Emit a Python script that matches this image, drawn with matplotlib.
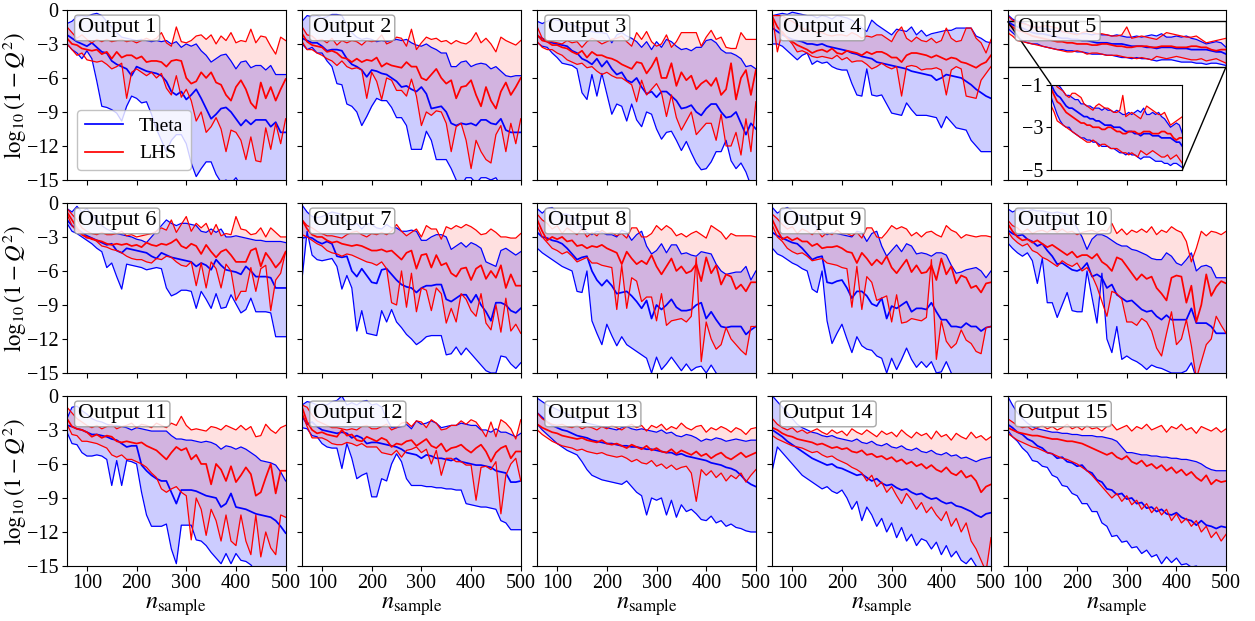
import numpy as np
import matplotlib
matplotlib.use('Agg')
import matplotlib.pyplot as plt
from mpl_toolkits.axes_grid1.inset_locator import mark_inset

plt.rcParams['font.family'] = ['Liberation Serif', 'DejaVu Serif']
plt.rcParams['mathtext.fontset'] = 'stix'

# sample sizes: 60, 70, ..., 500
n_start = 60
n_step = 10

# ---- Output 1 ----
t1_hi = [-1.2, -1.0, -0.6, -0.5, -0.6, -0.4, -0.3, -0.5, -1.0, -1.5, -2.0, -2.4, -2.5, -2.6, -2.7,
         -2.6, -2.7, -2.8, -2.7, -2.8, -2.7, -3.0, -2.8, -3.3, -3.0, -3.2, -3.0, -3.6, -4.0, -4.6,
         -4.3, -4.0, -3.9, -4.5, -5.2, -4.6, -4.5, -5.1, -4.9, -4.9, -5.3, -4.9, -5.7, -5.7, -5.7]
t1_mid = [-2.2, -2.5, -2.8, -3.0, -3.2, -2.9, -3.3, -3.7, -3.8, -4.5, -4.8, -5.0, -5.2, -5.8, -5.0,
          -5.2, -5.4, -5.5, -5.6, -5.8, -6.3, -7.2, -7.5, -7.2, -7.9, -7.5, -7.0, -7.8, -8.7, -9.6,
          -9.2, -8.7, -8.6, -9.0, -9.6, -10.2, -9.7, -10.1, -9.7, -9.7, -9.7, -10.3, -9.9, -10.8, -10.8]
t1_lo = [-3.0, -3.5, -3.8, -4.3, -3.6, -4.3, -6.3, -8.5, -8.6, -8.8, -9.1, -9.8, -8.5, -7.6, -7.8,
         -8.2, -8.1, -9.2, -10.5, -11.5, -12.5, -11.5, -11.0, -11.0, -11.8, -13.5, -14.7, -14.0, -13.4, -13.4,
         -14.5, -15.2, -15.0, -15.3, -14.8, -15.5, -15.5, -15.5, -15.5, -15.5, -15.5, -15.5, -15.5, -15.5, -15.5]
l1_hi = [-1.5, -2.0, -2.5, -2.2, -2.6, -2.9, -2.6, -2.8, -2.6, -2.8, -2.7, -2.6, -2.8, -2.7, -2.9,
         -2.7, -2.5, -2.7, -2.5, -2.0, -2.9, -3.2, -1.5, -2.8, -2.9, -2.7, -2.3, -2.2, -2.6, -2.2,
         -3.0, -2.3, -2.7, -2.0, -2.9, -2.7, -2.8, -1.7, -2.9, -2.3, -2.4, -3.2, -3.9, -2.4, -2.7]
l1_mid = [-2.5, -3.0, -3.1, -3.4, -3.5, -3.6, -3.5, -3.9, -3.7, -4.3, -3.7, -4.2, -4.0, -4.0, -4.3,
          -4.1, -4.6, -4.5, -4.5, -4.6, -5.0, -4.5, -4.4, -4.5, -6.0, -6.5, -6.3, -5.5, -6.0, -5.5,
          -6.4, -6.6, -7.5, -8.0, -6.8, -6.2, -7.0, -8.2, -8.7, -6.4, -7.8, -6.8, -8.0, -7.0, -6.1]
l1_lo = [-3.0, -3.5, -4.0, -3.8, -4.4, -4.5, -4.6, -4.5, -4.8, -5.2, -5.0, -4.7, -7.8, -5.5, -5.2,
         -5.5, -5.8, -5.5, -6.0, -5.6, -6.9, -7.5, -5.8, -7.7, -7.0, -8.0, -9.8, -9.0, -10.8, -10.3,
         -9.5, -10.5, -12.5, -10.6, -10.8, -11.5, -13.2, -11.2, -13.3, -13.4, -10.4, -12.3, -10.0, -11.8, -9.6]

# ---- Output 2 ----
t2_hi = [-1.0, -0.5, -0.6, -0.5, -0.7, -0.6, -0.4, -0.4, -0.5, -1.3, -2.0, -2.4, -2.6, -2.5, -2.6,
         -2.8, -2.7, -2.8, -2.7, -2.6, -2.7, -2.6, -2.9, -3.1, -3.2, -3.0, -3.3, -3.5, -3.8, -3.8,
         -5.0, -5.0, -4.6, -4.5, -5.0, -4.8, -4.7, -4.8, -5.2, -5.0, -5.4, -5.8, -5.9, -5.8, -5.8]
t2_mid = [-2.5, -2.7, -2.9, -2.9, -3.2, -3.6, -3.5, -3.5, -3.6, -4.3, -4.8, -5.0, -5.3, -5.9, -5.3,
          -5.4, -5.6, -5.7, -6.0, -6.3, -6.8, -6.7, -7.0, -7.2, -6.8, -7.4, -8.7, -8.6, -8.5, -9.0,
          -10.0, -10.2, -10.0, -10.1, -10.0, -10.2, -9.7, -9.7, -10.0, -10.1, -9.6, -10.6, -10.8, -10.8, -10.8]
t2_lo = [-3.0, -3.5, -3.3, -3.8, -3.8, -4.5, -5.0, -6.5, -6.6, -8.3, -8.5, -9.0, -10.2, -9.4, -8.5,
         -7.8, -8.0, -8.0, -8.6, -9.5, -9.5, -10.2, -12.3, -12.3, -12.3, -10.7, -11.5, -13.2, -13.2, -13.2,
         -14.0, -15.0, -15.5, -14.8, -14.8, -15.3, -14.8, -14.8, -15.0, -14.8, -15.5, -15.5, -15.5, -15.5, -15.5]
l2_hi = [-1.5, -2.2, -2.3, -2.7, -2.6, -2.9, -2.5, -3.1, -2.7, -2.9, -2.7, -2.8, -3.1, -2.7, -2.8,
         -2.7, -2.2, -3.0, -2.8, -2.4, -2.5, -3.2, -1.7, -3.5, -2.9, -2.4, -2.6, -2.5, -2.8, -2.7,
         -3.0, -2.7, -2.9, -3.0, -2.7, -2.0, -2.9, -2.5, -3.0, -3.7, -2.4, -2.7, -2.9, -3.1, -2.7]
l2_mid = [-2.1, -2.8, -3.1, -3.2, -3.3, -3.7, -3.6, -3.8, -4.2, -4.3, -4.6, -4.3, -4.6, -4.4, -4.5,
          -4.2, -5.0, -4.7, -4.9, -5.0, -5.1, -4.6, -5.0, -5.0, -6.0, -6.2, -5.7, -5.2, -6.0, -6.5,
          -6.2, -7.8, -6.8, -6.7, -6.2, -7.5, -8.5, -6.8, -8.0, -8.7, -7.2, -6.4, -7.5, -6.8, -6.0]
l2_lo = [-2.8, -3.5, -3.5, -3.8, -4.0, -4.3, -4.5, -4.9, -4.5, -5.0, -5.2, -5.1, -5.3, -7.8, -5.5,
         -6.3, -7.9, -6.0, -6.2, -7.1, -7.1, -7.6, -6.1, -7.6, -10.2, -9.0, -9.3, -8.9, -9.0, -10.0,
         -12.5, -10.3, -10.0, -11.5, -14.0, -11.5, -12.5, -13.2, -13.5, -11.0, -10.2, -12.5, -10.0, -11.8, -9.6]

# ---- Output 3 ----
t3_hi = [-1.0, -1.2, -1.0, -0.8, -0.9, -1.0, -1.2, -1.3, -1.5, -1.6, -1.8, -1.9, -2.0, -2.0, -2.1,
         -2.9, -2.2, -2.0, -2.3, -2.5, -2.8, -3.3, -2.8, -3.5, -2.8, -3.3, -2.6, -2.8, -3.2, -3.5,
         -3.4, -3.6, -3.3, -3.3, -2.7, -2.6, -2.9, -3.5, -3.8, -3.8, -4.0, -4.3, -5.0, -4.9, -5.2]
t3_mid = [-2.3, -2.5, -2.8, -2.9, -3.0, -3.1, -3.2, -3.6, -3.8, -4.3, -4.5, -4.8, -4.3, -5.0, -4.5,
          -5.2, -5.7, -5.5, -6.2, -6.4, -6.0, -6.8, -7.4, -7.2, -7.7, -7.2, -7.2, -7.6, -8.0, -8.7,
          -8.6, -8.4, -9.0, -9.3, -8.7, -8.3, -8.3, -9.0, -9.5, -9.4, -9.0, -10.0, -11.0, -10.0, -10.5]
t3_lo = [-2.9, -3.2, -3.3, -3.8, -4.2, -4.7, -4.8, -4.9, -5.2, -7.3, -7.9, -5.7, -7.6, -5.6, -7.4,
         -9.2, -8.3, -8.5, -9.8, -8.3, -9.7, -10.3, -9.0, -9.2, -10.5, -11.4, -10.8, -10.7, -11.5, -12.4,
         -11.6, -12.6, -13.5, -14.1, -14.0, -13.4, -12.5, -12.5, -11.5, -13.3, -14.0, -13.5, -14.3, -15.5, -15.8]
l3_hi = [-1.5, -2.5, -2.7, -2.8, -2.9, -3.0, -2.7, -2.9, -2.8, -3.3, -2.8, -2.5, -2.7, -3.0, -2.8,
         -2.6, -2.5, -2.3, -2.8, -3.2, -2.0, -2.6, -1.9, -2.8, -3.2, -3.0, -2.2, -3.3, -2.8, -2.0,
         -2.0, -2.0, -2.0, -3.2, -2.4, -1.8, -2.6, -2.4, -3.3, -3.4, -3.4, -2.0, -2.6, -2.6, -2.6]
l3_mid = [-2.2, -2.7, -2.8, -3.1, -3.1, -3.3, -3.4, -3.7, -3.9, -3.6, -4.2, -3.7, -4.0, -4.0, -4.2,
          -4.3, -4.5, -4.8, -5.0, -5.2, -4.6, -4.7, -5.6, -5.0, -4.2, -6.0, -6.0, -4.7, -6.7, -5.5,
          -6.2, -5.8, -7.0, -6.5, -6.2, -6.7, -6.0, -7.5, -7.0, -4.7, -7.9, -6.0, -5.3, -7.5, -5.3]
l3_lo = [-2.8, -3.3, -3.5, -3.5, -3.8, -4.0, -4.4, -4.6, -4.8, -4.7, -5.1, -5.0, -5.4, -5.7, -5.5,
         -5.8, -6.0, -6.0, -6.3, -6.6, -8.1, -6.2, -7.5, -7.0, -6.5, -7.3, -9.4, -7.5, -9.5, -10.6,
         -9.8, -9.0, -11.0, -10.5, -10.0, -10.0, -11.5, -9.2, -12.0, -12.0, -10.8, -12.8, -9.6, -12.5, -8.1]

# ---- Output 4 ----
t4_hi = [-0.5, -0.4, -0.3, -0.4, -0.2, -0.3, -0.4, -0.5, -0.5, -0.7, -0.5, -0.6, -0.8, -0.5, -0.6,
         -0.7, -0.9, -1.2, -1.6, -1.9, -0.9, -1.3, -1.6, -1.9, -2.2, -1.7, -1.8, -1.9, -1.5, -2.2,
         -1.8, -2.3, -2.1, -2.0, -1.9, -1.8, -1.8, -1.6, -1.6, -1.6, -1.6, -2.3, -2.5, -2.8, -2.9]
t4_mid = [-1.6, -1.9, -2.2, -2.4, -2.6, -2.7, -2.8, -3.0, -3.0, -3.1, -3.0, -3.2, -3.3, -3.4, -3.5,
          -3.6, -3.8, -3.9, -4.1, -4.2, -4.3, -4.6, -4.7, -4.8, -4.9, -5.0, -5.1, -5.2, -5.4, -5.5,
          -5.6, -5.7, -5.8, -6.2, -6.0, -5.7, -5.8, -5.9, -6.0, -6.3, -6.6, -7.0, -7.3, -7.6, -7.8]
t4_lo = [-3.0, -3.0, -3.2, -3.6, -4.0, -4.4, -4.0, -3.8, -4.8, -4.5, -4.7, -4.6, -5.0, -5.2, -5.3,
         -5.3, -6.5, -7.5, -7.6, -5.2, -7.5, -7.6, -7.5, -8.3, -9.1, -9.2, -9.3, -8.2, -8.8, -9.3,
         -9.3, -9.3, -9.4, -9.5, -10.4, -9.4, -9.9, -10.4, -10.5, -10.6, -11.5, -12.0, -12.5, -12.5, -12.5]
l4_hi = [-0.5, -0.5, -0.5, -0.8, -1.0, -1.3, -1.6, -1.8, -1.8, -2.0, -2.0, -2.2, -2.3, -2.2, -2.2,
         -2.3, -2.0, -2.2, -2.5, -2.3, -2.4, -2.2, -2.2, -2.5, -2.8, -2.0, -1.5, -2.5, -2.8, -2.4,
         -2.7, -2.8, -2.5, -2.9, -2.7, -1.6, -2.5, -2.8, -2.7, -1.6, -1.6, -2.5, -2.9, -3.8, -2.6]
l4_mid = [-0.6, -1.5, -2.0, -2.5, -2.8, -3.1, -3.3, -3.5, -3.8, -3.6, -3.5, -3.7, -3.4, -3.8, -3.9,
          -3.6, -3.7, -3.8, -4.0, -3.7, -3.9, -3.7, -3.7, -3.9, -4.2, -4.2, -4.6, -4.0, -3.8, -3.8,
          -3.9, -4.0, -4.2, -4.0, -4.2, -4.4, -4.2, -4.3, -4.6, -4.7, -4.9, -5.1, -4.8, -4.6, -4.0]
l4_lo = [-0.5, -3.7, -1.9, -2.5, -3.0, -3.7, -3.6, -3.8, -4.1, -4.2, -4.1, -4.2, -4.3, -4.0, -4.4,
         -4.2, -4.6, -4.5, -4.5, -4.8, -5.2, -5.0, -4.7, -5.0, -5.2, -5.0, -7.6, -5.0, -4.9, -5.0,
         -5.3, -5.2, -5.2, -5.1, -5.3, -7.5, -5.3, -5.0, -5.2, -7.6, -7.7, -7.8, -6.2, -5.6, -5.0]

# ---- Output 5 ----
t5_hi = [-0.4, -0.8, -1.0, -1.1, -1.3, -1.5, -1.5, -1.6, -1.7, -1.7, -1.9, -1.9, -2.0, -2.0, -2.1,
         -2.1, -2.1, -2.2, -2.1, -2.2, -2.2, -2.3, -2.2, -2.3, -2.4, -2.4, -2.3, -2.4, -2.3, -2.2,
         -2.3, -2.1, -2.4, -2.4, -2.3, -2.4, -2.3, -2.5, -2.6, -2.8, -3.0, -2.9, -2.8, -2.9, -3.3]
t5_mid = [-1.0, -1.3, -1.5, -1.6, -1.8, -2.0, -2.1, -2.1, -2.2, -2.3, -2.4, -2.5, -2.5, -2.6, -2.6,
          -2.7, -2.7, -2.8, -2.9, -2.9, -2.9, -3.0, -3.0, -3.0, -3.1, -3.2, -3.2, -3.2, -3.3, -3.3,
          -3.4, -3.3, -3.3, -3.3, -3.4, -3.4, -3.4, -3.5, -3.5, -3.5, -3.5, -3.6, -3.7, -3.7, -3.9]
t5_lo = [-1.6, -2.0, -2.4, -2.7, -2.9, -3.0, -3.0, -3.2, -3.3, -3.4, -3.5, -3.5, -3.6, -3.6, -3.7,
         -3.7, -3.8, -3.9, -3.9, -3.9, -4.0, -4.0, -4.1, -4.2, -4.2, -4.3, -4.2, -4.3, -4.3, -4.4,
         -4.5, -4.4, -4.4, -4.4, -4.5, -4.6, -4.6, -4.6, -4.7, -4.7, -4.8, -4.7, -4.7, -4.8, -4.9]
l5_hi = [-0.5, -0.9, -1.1, -1.2, -1.3, -1.5, -1.6, -1.4, -1.4, -1.5, -1.6, -1.9, -2.0, -2.1, -2.2,
         -2.0, -1.9, -2.0, -2.1, -2.1, -2.2, -2.3, -2.3, -2.2, -1.5, -2.5, -2.4, -2.3, -2.4, -2.5,
         -2.6, -2.3, -2.0, -2.1, -2.2, -2.3, -2.4, -2.4, -2.3, -2.6, -2.9, -2.8, -2.7, -2.6, -2.5]
l5_mid = [-1.2, -1.5, -1.8, -1.9, -2.1, -2.3, -2.4, -2.5, -2.6, -2.7, -2.8, -2.8, -2.9, -2.9, -3.0,
          -3.0, -3.0, -3.1, -3.1, -3.0, -3.0, -3.1, -3.2, -3.2, -3.3, -3.3, -3.2, -3.2, -3.2, -3.3,
          -3.3, -3.2, -3.2, -3.2, -3.3, -3.3, -3.3, -3.2, -3.2, -3.3, -3.3, -3.5, -3.6, -3.5, -3.5]
l5_lo = [-2.0, -2.3, -2.7, -2.8, -2.9, -3.0, -3.1, -3.2, -3.3, -3.4, -3.5, -3.6, -3.7, -3.7, -3.6,
         -3.7, -3.9, -3.8, -3.8, -3.9, -4.0, -4.0, -4.0, -4.1, -4.2, -4.2, -4.3, -4.2, -4.3, -4.4,
         -4.1, -4.2, -4.3, -4.2, -4.1, -4.2, -4.3, -4.4, -4.4, -4.3, -4.5, -4.4, -4.3, -4.5, -4.7]

# ---- Output 6 ----
t6_hi = [-0.5, -0.8, -0.3, -0.8, -0.5, -1.0, -1.5, -2.0, -2.3, -2.5, -2.7, -2.8, -2.9, -3.0, -3.2,
         -3.3, -3.5, -3.0, -2.5, -2.0, -1.5, -1.8, -2.0, -1.8, -1.8, -1.9, -2.0, -2.5, -2.6, -2.3,
         -2.6, -2.3, -3.0, -3.0, -2.9, -3.0, -3.1, -3.2, -3.3, -3.3, -3.4, -3.4, -3.4, -3.4, -3.5]
t6_mid = [-1.5, -2.0, -2.3, -2.6, -2.9, -3.1, -3.3, -3.5, -3.7, -3.6, -4.2, -4.4, -4.0, -4.1, -4.2,
          -4.3, -4.4, -4.7, -4.9, -4.4, -4.6, -4.8, -4.9, -5.0, -5.1, -5.2, -5.6, -5.3, -5.5, -5.9,
          -5.0, -5.5, -5.9, -6.0, -6.1, -6.3, -5.6, -6.0, -6.5, -6.5, -6.5, -6.6, -7.5, -7.5, -7.5]
t6_lo = [-1.8, -2.5, -2.7, -3.0, -3.3, -3.6, -4.0, -4.3, -5.7, -5.3, -6.5, -7.6, -5.4, -5.5, -5.6,
         -5.7, -5.9, -5.8, -5.7, -5.8, -7.5, -8.2, -8.0, -7.7, -7.7, -7.8, -9.3, -7.8, -8.5, -9.3,
         -8.0, -9.3, -9.2, -8.1, -8.9, -9.7, -9.4, -8.4, -9.6, -9.6, -9.6, -9.7, -11.8, -11.8, -11.8]
l6_hi = [-0.5, -1.0, -1.5, -2.2, -2.5, -2.7, -2.8, -2.6, -2.8, -2.8, -2.7, -2.5, -2.9, -2.8, -3.0,
         -2.9, -2.8, -2.7, -2.5, -2.2, -2.4, -1.5, -2.6, -1.9, -1.2, -2.5, -1.8, -2.2, -1.8, -2.8,
         -1.9, -2.9, -2.7, -2.8, -1.2, -2.3, -2.4, -2.8, -2.7, -2.2, -3.0, -2.2, -2.6, -3.0, -3.0]
l6_mid = [-0.8, -1.5, -2.2, -2.8, -3.0, -3.2, -3.3, -3.4, -3.6, -3.7, -3.6, -3.7, -3.6, -3.8, -3.7,
          -3.9, -3.5, -3.7, -3.8, -3.6, -3.7, -3.5, -3.2, -3.8, -4.0, -3.6, -3.8, -4.5, -3.7, -4.3,
          -4.8, -4.3, -4.1, -4.6, -5.2, -5.2, -5.2, -4.2, -4.0, -5.6, -4.4, -5.0, -5.7, -5.2, -4.3]
l6_lo = [-1.0, -2.0, -2.5, -2.8, -3.1, -3.1, -3.4, -3.8, -3.9, -4.1, -4.2, -4.4, -4.7, -4.9, -5.0,
         -5.0, -5.2, -5.3, -4.9, -5.0, -4.7, -4.8, -5.2, -5.5, -5.6, -5.2, -7.3, -5.3, -7.5, -5.2,
         -5.8, -7.5, -5.4, -6.0, -8.6, -7.8, -7.8, -5.7, -7.8, -5.8, -5.5, -9.5, -6.8, -6.2, -4.3]

# ---- Output 7 ----
t7_hi = [-0.2, -0.8, -1.2, -1.3, -1.2, -1.0, -0.8, -0.9, -1.0, -1.6, -2.0, -1.8, -2.3, -1.8, -1.9,
         -2.2, -2.3, -1.9, -2.2, -2.2, -2.5, -2.5, -2.4, -2.5, -3.3, -3.3, -3.0, -2.8, -2.8, -3.0,
         -4.1, -3.8, -3.5, -3.9, -3.5, -3.7, -4.0, -5.2, -5.4, -5.6, -4.2, -4.0, -4.3, -4.6, -4.3]
t7_mid = [-3.1, -3.0, -3.1, -3.4, -3.6, -3.4, -3.6, -4.7, -4.8, -4.7, -6.0, -6.5, -5.8, -6.4, -7.0,
          -7.1, -5.9, -5.8, -6.3, -6.8, -7.2, -7.4, -7.5, -7.9, -7.5, -7.3, -7.3, -7.2, -7.2, -8.5,
          -8.7, -8.4, -8.1, -8.1, -8.8, -8.1, -9.0, -9.6, -10.4, -8.8, -8.8, -9.0, -9.5, -9.7, -9.3]
t7_lo = [-6.6, -2.5, -4.6, -5.0, -5.1, -5.0, -4.9, -5.6, -7.6, -6.4, -7.5, -11.3, -9.5, -11.5, -11.6,
         -11.7, -9.5, -10.5, -9.4, -10.5, -11.0, -11.6, -12.0, -12.5, -12.2, -11.8, -11.7, -11.7, -11.7, -13.4,
         -13.3, -12.7, -13.4, -12.8, -13.3, -13.8, -14.3, -14.8, -15.0, -15.0, -13.5, -13.6, -14.2, -14.6, -14.1]
l7_hi = [-1.5, -2.0, -2.2, -2.5, -2.7, -2.9, -2.9, -3.0, -3.1, -2.8, -2.6, -2.5, -2.8, -3.0, -2.7,
         -2.8, -2.6, -2.8, -2.5, -1.9, -2.5, -2.9, -2.6, -2.3, -3.0, -2.0, -2.3, -2.3, -3.2, -2.1,
         -2.3, -2.0, -2.2, -1.9, -2.1, -2.4, -2.8, -2.7, -2.3, -2.6, -3.0, -3.0, -3.1, -3.1, -2.7]
l7_mid = [-1.5, -2.3, -2.8, -3.0, -3.0, -3.3, -3.5, -3.4, -3.6, -3.7, -3.8, -3.7, -3.8, -4.0, -4.2,
          -4.2, -4.1, -4.3, -4.2, -4.6, -5.0, -4.4, -4.2, -5.8, -4.6, -4.5, -5.7, -4.6, -5.5, -5.3,
          -6.2, -6.5, -5.8, -5.7, -6.8, -5.8, -5.5, -6.7, -6.0, -6.6, -5.5, -7.5, -6.3, -7.3, -7.3]
l7_lo = [-2.8, -3.0, -3.3, -3.6, -3.8, -4.2, -4.4, -4.5, -4.7, -4.5, -4.6, -4.8, -5.0, -5.2, -5.3,
         -5.5, -5.2, -5.8, -8.8, -9.0, -6.0, -9.2, -6.2, -9.6, -7.5, -7.7, -9.5, -7.5, -8.0, -10.6,
         -9.3, -10.5, -8.0, -8.5, -9.5, -10.0, -8.0, -10.6, -11.2, -9.0, -11.4, -8.4, -11.3, -10.7, -11.5]

# ---- Output 8 ----
t8_hi = [-0.5, -0.9, -0.5, -0.4, -0.8, -1.0, -1.0, -1.2, -1.5, -2.2, -2.6, -2.8, -2.5, -2.6, -2.8,
         -2.8, -3.0, -2.4, -2.6, -3.3, -2.8, -2.5, -3.8, -4.5, -4.2, -3.6, -4.4, -3.7, -3.7, -4.5,
         -4.4, -4.6, -4.7, -4.3, -4.4, -4.5, -5.4, -6.0, -6.3, -6.2, -6.1, -6.1, -5.6, -6.8, -6.0]
t8_mid = [-2.6, -3.0, -3.1, -3.3, -3.4, -3.6, -4.0, -4.5, -5.0, -4.8, -4.7, -6.0, -6.8, -7.3, -6.8,
          -7.3, -8.0, -7.9, -7.8, -8.2, -8.7, -9.3, -8.6, -10.2, -9.0, -9.4, -9.0, -8.5, -9.2, -9.5,
          -9.5, -9.4, -9.0, -8.8, -10.2, -9.6, -10.3, -10.9, -11.0, -10.9, -10.9, -10.9, -11.6, -11.2, -10.9]
t8_lo = [-4.0, -4.4, -4.7, -5.0, -5.3, -5.6, -5.8, -6.0, -7.8, -7.9, -6.0, -10.4, -11.5, -12.5, -10.7,
         -11.7, -12.6, -11.8, -12.5, -12.8, -13.1, -13.4, -13.7, -15.0, -13.6, -14.7, -14.2, -13.6, -14.2, -14.8,
         -14.2, -14.8, -14.5, -14.4, -15.0, -14.3, -15.0, -15.5, -15.5, -15.5, -15.5, -15.5, -15.5, -15.5, -15.5]
l8_hi = [-1.0, -1.5, -1.8, -2.3, -2.0, -2.7, -2.2, -2.5, -2.8, -2.3, -3.0, -2.6, -2.9, -2.4, -2.7,
         -2.6, -2.9, -2.7, -3.1, -2.2, -2.2, -3.0, -3.0, -2.7, -2.0, -2.4, -2.0, -2.3, -2.9, -2.7,
         -3.0, -2.7, -2.5, -2.8, -3.1, -2.0, -2.3, -2.6, -3.2, -2.7, -2.9, -2.9, -2.9, -2.9, -3.0]
l8_mid = [-1.5, -2.5, -3.3, -3.0, -3.2, -3.0, -3.4, -3.3, -3.8, -3.7, -4.0, -3.8, -3.9, -3.7, -4.0,
          -4.2, -4.4, -5.4, -4.3, -4.9, -5.4, -5.1, -5.4, -4.6, -5.6, -6.3, -5.6, -4.9, -6.0, -5.6,
          -6.2, -6.0, -5.4, -6.9, -4.8, -6.2, -5.5, -7.2, -6.3, -6.5, -7.6, -7.2, -7.8, -7.0, -7.0]
l8_lo = [-2.0, -3.0, -3.5, -4.0, -4.2, -4.5, -4.3, -4.7, -5.2, -5.0, -4.8, -5.3, -5.3, -5.5, -5.6,
         -5.7, -9.4, -5.5, -9.3, -6.6, -6.9, -8.7, -8.3, -8.3, -10.4, -8.0, -10.8, -10.4, -10.3, -10.2,
         -10.5, -10.0, -4.8, -14.0, -10.5, -12.0, -12.9, -12.5, -11.0, -12.0, -12.5, -13.0, -13.4, -10.9, -10.9]

# ---- Output 9 ----
t9_hi = [-0.4, -0.9, -0.6, -0.4, -0.7, -1.0, -1.1, -1.2, -1.6, -2.2, -2.5, -2.8, -2.6, -2.7, -2.8,
         -2.9, -3.0, -2.5, -2.6, -3.4, -2.7, -2.5, -3.8, -4.7, -4.2, -3.7, -4.3, -3.6, -3.8, -4.5,
         -4.4, -4.5, -4.7, -4.4, -4.4, -4.6, -5.5, -6.2, -6.1, -5.9, -5.8, -5.7, -6.0, -6.6, -6.0]
t9_mid = [-2.6, -2.9, -3.1, -3.3, -3.5, -3.6, -4.0, -4.5, -5.0, -4.8, -4.7, -7.0, -7.1, -6.9, -6.8,
          -7.5, -8.4, -7.8, -7.8, -8.2, -8.9, -9.1, -8.4, -10.2, -9.1, -9.3, -9.0, -8.7, -9.6, -9.3,
          -9.3, -9.4, -8.8, -9.6, -10.3, -10.3, -10.9, -10.9, -11.0, -10.6, -10.9, -10.9, -11.3, -11.0, -10.9]
t9_lo = [-4.0, -4.5, -4.7, -5.0, -5.3, -5.5, -5.8, -6.0, -7.6, -7.9, -6.0, -10.4, -12.4, -11.5, -10.7,
         -12.0, -13.2, -11.8, -12.6, -12.9, -13.0, -13.5, -13.7, -15.0, -13.7, -14.7, -13.8, -12.8, -13.8, -14.5,
         -14.0, -14.5, -14.0, -15.0, -14.9, -14.0, -15.0, -15.5, -15.5, -15.5, -15.5, -15.5, -15.5, -15.5, -15.5]
l9_hi = [-1.0, -1.4, -1.9, -2.3, -2.1, -2.7, -2.3, -2.5, -2.8, -2.4, -3.0, -2.6, -2.8, -2.4, -2.7,
         -2.7, -2.9, -2.6, -3.1, -2.2, -2.2, -3.0, -3.1, -2.6, -2.0, -2.3, -2.1, -2.3, -2.9, -2.6,
         -3.0, -2.6, -2.5, -2.8, -3.0, -2.0, -2.4, -2.6, -3.1, -2.8, -2.9, -3.0, -2.9, -2.9, -3.0]
l9_mid = [-1.5, -2.4, -3.2, -3.0, -3.3, -3.1, -3.4, -3.4, -3.8, -3.6, -4.0, -3.9, -3.9, -3.8, -4.0,
          -4.3, -4.4, -5.3, -4.4, -4.9, -5.5, -5.0, -5.4, -4.7, -5.7, -6.2, -5.6, -5.0, -6.1, -5.5,
          -6.2, -6.1, -5.5, -6.8, -4.9, -6.3, -5.6, -7.1, -6.4, -6.6, -7.5, -7.3, -7.9, -7.1, -7.0]
l9_lo = [-2.0, -3.0, -3.4, -4.0, -4.3, -4.5, -4.4, -4.7, -5.1, -5.0, -4.9, -5.3, -5.4, -5.5, -5.7,
         -5.8, -9.2, -5.6, -9.4, -6.5, -7.0, -8.6, -8.4, -8.2, -10.5, -8.1, -10.6, -10.5, -10.2, -10.3,
         -10.4, -10.1, -5.0, -13.8, -10.4, -12.2, -12.8, -12.4, -11.2, -12.1, -12.4, -13.1, -13.3, -11.0, -10.9]

# ---- Output 10 ----
t10_hi = [-0.5, -0.8, -0.6, -0.6, -0.7, -0.6, -0.7, -0.7, -0.8, -0.9, -0.8, -0.9, -1.0, -1.3, -2.2,
          -3.0, -4.1, -3.2, -2.8, -2.8, -3.0, -3.3, -3.6, -3.8, -3.8, -4.1, -4.2, -4.4, -4.6, -4.9,
          -5.0, -5.0, -4.4, -4.7, -5.3, -5.5, -5.0, -4.4, -6.0, -5.6, -5.5, -5.7, -6.6, -6.6, -6.6]
t10_mid = [-2.4, -2.7, -2.9, -2.8, -3.2, -3.4, -3.8, -3.6, -4.2, -4.7, -5.4, -5.3, -5.6, -5.9, -6.0,
           -5.8, -5.3, -6.5, -6.3, -6.6, -7.5, -7.2, -8.1, -8.4, -8.7, -8.6, -9.0, -9.4, -9.6, -9.5,
           -10.0, -10.3, -9.9, -10.3, -10.3, -10.3, -10.3, -9.3, -10.6, -10.6, -10.6, -10.9, -11.5, -11.5, -11.5]
t10_lo = [-3.5, -4.0, -4.4, -4.7, -4.4, -5.1, -7.1, -4.9, -8.8, -8.8, -10.1, -9.0, -7.9, -9.5, -9.6,
          -9.6, -6.0, -8.3, -10.6, -6.2, -12.0, -13.2, -10.9, -13.8, -13.5, -13.8, -14.0, -14.3, -14.7, -14.3,
          -14.5, -14.6, -14.8, -15.0, -15.0, -15.0, -14.8, -14.1, -15.5, -15.5, -15.5, -15.5, -15.5, -15.5, -15.5]
l10_hi = [-1.5, -2.0, -2.2, -2.6, -2.3, -2.7, -2.5, -2.4, -2.6, -2.3, -2.6, -2.3, -2.6, -2.5, -2.8,
          -2.6, -2.5, -2.4, -2.6, -2.4, -2.5, -1.8, -2.7, -2.3, -2.8, -2.4, -2.6, -2.3, -2.6, -2.1,
          -2.8, -2.4, -2.6, -2.1, -2.4, -2.6, -3.4, -5.2, -4.0, -2.5, -2.9, -2.5, -2.6, -2.8, -2.5]
l10_mid = [-1.8, -2.5, -3.0, -3.3, -3.2, -3.5, -3.3, -3.6, -3.9, -3.7, -4.0, -4.3, -4.6, -4.3, -4.8,
           -4.6, -4.6, -4.9, -4.5, -5.2, -5.5, -6.0, -4.8, -5.0, -5.6, -6.2, -6.8, -6.3, -6.7, -6.5,
           -7.5, -8.0, -8.6, -6.6, -6.4, -6.5, -8.8, -7.3, -10.5, -9.0, -6.3, -8.2, -7.4, -6.9, -7.1]
l10_lo = [-2.5, -3.1, -3.5, -3.8, -3.6, -4.2, -4.4, -4.8, -5.0, -5.3, -5.6, -5.1, -5.4, -5.6, -5.3,
          -6.0, -5.7, -6.4, -7.4, -8.7, -10.0, -7.8, -8.0, -8.5, -10.5, -10.5, -10.8, -10.2, -10.5, -11.3,
          -12.8, -13.5, -11.5, -9.6, -12.5, -12.0, -10.3, -12.6, -15.5, -14.0, -12.5, -12.0, -10.0, -10.8, -11.5]

# ---- Output 11 ----
t11_hi = [-2.0, -1.0, -0.9, -1.3, -1.6, -2.0, -2.2, -2.3, -2.5, -2.6, -2.6, -2.7, -2.8, -3.0, -2.8,
          -2.9, -3.0, -3.1, -3.1, -3.1, -3.1, -3.5, -3.8, -3.8, -3.9, -3.9, -4.0, -4.1, -4.0, -4.1,
          -4.3, -4.7, -4.4, -4.5, -4.7, -4.5, -4.7, -5.0, -5.3, -5.7, -5.8, -5.9, -6.1, -6.7, -7.5]
t11_mid = [-2.6, -2.7, -2.9, -3.0, -3.2, -3.4, -3.4, -3.5, -3.6, -3.8, -3.9, -4.2, -4.5, -4.4, -4.4,
           -6.1, -6.6, -7.0, -7.3, -7.5, -7.5, -8.5, -9.5, -8.3, -8.3, -8.3, -8.4, -8.6, -8.8, -8.9,
           -9.0, -9.8, -9.5, -8.6, -9.8, -9.9, -10.0, -10.2, -10.4, -10.5, -10.6, -10.7, -11.0, -11.5, -12.1]
t11_lo = [-3.2, -4.2, -4.3, -5.0, -5.3, -5.3, -5.2, -5.3, -5.6, -7.9, -5.7, -7.9, -5.7, -5.8, -6.0,
          -8.5, -10.5, -11.5, -11.5, -11.5, -11.3, -13.5, -14.8, -11.4, -11.4, -11.4, -12.7, -12.8, -13.2, -13.8,
          -14.3, -14.8, -13.9, -14.8, -13.9, -14.5, -14.6, -14.9, -15.5, -15.5, -15.5, -15.5, -15.5, -15.5, -15.5]
l11_hi = [-1.0, -1.5, -2.0, -2.3, -2.6, -2.8, -2.6, -2.9, -2.7, -2.5, -2.9, -2.7, -2.6, -2.4, -2.8,
          -2.5, -2.6, -2.8, -2.4, -2.6, -2.8, -2.4, -2.6, -1.8, -2.6, -3.0, -2.9, -3.0, -3.1, -2.7,
          -2.8, -3.0, -2.6, -2.8, -3.0, -2.6, -3.0, -2.7, -3.6, -3.5, -2.5, -3.0, -3.3, -2.8, -2.6]
l11_mid = [-2.0, -2.7, -2.9, -3.0, -3.2, -3.6, -3.4, -3.7, -3.5, -3.6, -4.0, -4.1, -4.0, -4.1, -4.2,
           -4.1, -4.4, -4.6, -4.8, -5.2, -5.6, -5.0, -4.5, -4.8, -4.6, -5.6, -5.2, -6.0, -6.0, -7.8,
           -6.0, -6.5, -7.5, -6.2, -7.6, -7.0, -6.3, -6.9, -8.8, -8.5, -7.2, -6.0, -8.6, -6.6, -6.6]
l11_lo = [-2.5, -3.4, -3.5, -4.0, -4.0, -4.1, -4.2, -4.4, -4.6, -5.2, -5.4, -5.2, -5.6, -5.6, -5.8,
          -6.0, -6.3, -6.8, -7.2, -8.2, -8.5, -8.2, -8.0, -8.5, -8.8, -12.7, -9.0, -10.0, -12.3, -10.0,
          -11.0, -12.8, -10.5, -12.8, -13.2, -10.5, -12.8, -14.0, -10.5, -14.2, -12.0, -13.4, -14.0, -10.5, -10.7]

# ---- Output 12 ----
t12_hi = [-0.8, -0.5, -0.6, -0.8, -0.7, -0.8, -0.5, -0.4, 0.0, -0.8, -0.6, -0.8, -0.5, -0.4, -0.8,
          -0.7, -1.0, -2.0, -2.8, -2.8, -2.7, -2.5, -2.9, -2.2, -2.5, -2.4, -2.2, -2.4, -2.8, -2.7,
          -2.6, -2.6, -2.4, -2.5, -2.6, -2.6, -3.0, -3.0, -3.2, -2.9, -3.2, -3.2, -3.4, -3.6, -3.3]
t12_mid = [-1.8, -2.5, -2.3, -2.7, -3.0, -3.1, -3.2, -3.3, -3.2, -3.3, -3.7, -3.5, -3.7, -4.2, -4.1,
           -4.1, -4.2, -4.3, -4.4, -4.5, -4.7, -5.0, -5.1, -5.2, -5.5, -5.2, -5.3, -5.5, -5.5, -5.6,
           -5.7, -5.5, -5.8, -5.9, -6.0, -6.1, -6.1, -6.2, -6.3, -6.6, -6.7, -6.8, -7.6, -7.6, -7.5]
t12_lo = [-2.8, -2.9, -3.5, -3.6, -4.2, -4.5, -4.6, -4.6, -6.4, -4.2, -5.5, -7.3, -7.0, -6.8, -8.9,
          -8.9, -7.3, -7.5, -6.0, -5.1, -5.8, -7.3, -7.9, -7.9, -7.9, -8.0, -8.0, -8.1, -8.1, -8.2,
          -8.2, -8.3, -8.3, -9.5, -9.6, -9.7, -9.8, -9.8, -9.9, -10.0, -11.0, -11.2, -11.8, -11.8, -11.8]
l12_hi = [-0.8, -1.0, -1.7, -2.2, -2.4, -2.6, -2.8, -2.8, -2.9, -3.0, -2.9, -3.0, -2.7, -2.6, -2.9,
          -2.9, -2.7, -2.5, -3.0, -2.8, -2.4, -2.3, -2.7, -2.2, -2.3, -2.8, -2.1, -2.4, -3.0, -2.9,
          -2.6, -2.6, -2.2, -2.5, -2.1, -2.3, -2.9, -3.6, -2.3, -3.6, -2.1, -2.4, -2.9, -3.8, -2.1]
l12_mid = [-1.0, -2.3, -3.0, -3.3, -3.2, -3.4, -3.5, -3.6, -3.0, -3.5, -3.4, -3.9, -4.0, -3.6, -3.8,
           -4.0, -3.7, -3.9, -4.5, -4.2, -4.3, -4.0, -3.9, -4.4, -4.1, -3.8, -4.4, -4.6, -4.2, -4.9,
           -4.6, -4.5, -4.3, -4.7, -5.0, -4.6, -4.3, -4.9, -5.8, -5.0, -4.6, -4.4, -5.5, -4.9, -4.9]
l12_lo = [-1.5, -2.7, -3.7, -3.7, -3.7, -3.9, -4.2, -4.3, -4.3, -4.1, -4.2, -4.4, -4.2, -4.5, -4.5,
          -4.5, -5.0, -5.1, -5.2, -4.8, -5.4, -4.8, -4.7, -4.5, -5.0, -4.7, -6.0, -4.8, -7.0, -5.5,
          -5.5, -5.8, -5.8, -6.1, -6.1, -9.2, -6.3, -6.2, -6.5, -5.8, -10.4, -7.0, -6.0, -5.5, -7.5]

# ---- Output 13 ----
t13_hi = [-0.2, -0.5, -0.8, -1.0, -1.2, -1.4, -1.6, -1.8, -2.0, -2.2, -2.4, -2.5, -2.6, -2.7, -2.8,
          -2.9, -3.0, -2.8, -2.7, -2.9, -3.0, -2.9, -3.0, -3.1, -3.2, -3.0, -3.3, -3.2, -3.5, -3.6,
          -3.4, -3.5, -3.7, -4.0, -3.8, -3.9, -3.7, -3.8, -4.0, -3.9, -3.8, -3.9, -4.0, -3.9, -3.9]
t13_mid = [-1.5, -1.9, -2.3, -2.6, -2.8, -3.0, -3.1, -3.3, -3.5, -3.6, -3.7, -3.9, -4.0, -4.1, -4.2,
           -4.2, -4.3, -4.4, -4.4, -4.5, -4.5, -4.6, -4.7, -4.7, -4.8, -4.9, -5.0, -5.0, -5.2, -5.1,
           -5.3, -5.4, -5.5, -5.6, -5.7, -5.9, -6.0, -6.1, -6.3, -6.4, -6.6, -7.0, -7.5, -7.8, -8.0]
t13_lo = [-2.5, -3.0, -3.4, -3.8, -4.2, -4.5, -4.8, -5.0, -5.2, -5.8, -6.5, -7.0, -7.2, -7.4, -7.5,
          -7.6, -7.7, -7.8, -7.5, -8.0, -8.5, -8.8, -10.5, -9.0, -9.2, -9.0, -10.5, -9.2, -10.7, -9.6,
          -10.2, -10.0, -10.4, -10.9, -11.0, -10.6, -11.2, -11.0, -11.5, -11.3, -11.6, -11.7, -11.9, -12.0, -12.0]
l13_hi = [-1.5, -2.0, -2.3, -2.5, -2.6, -2.5, -2.7, -2.8, -2.6, -2.9, -2.7, -2.8, -3.0, -2.7, -2.9,
          -2.6, -2.8, -3.0, -2.7, -2.5, -2.8, -2.6, -3.1, -2.6, -2.8, -2.5, -3.0, -2.7, -2.9, -2.4,
          -2.8, -3.0, -2.7, -2.6, -3.2, -2.8, -3.0, -2.7, -2.9, -3.2, -2.8, -3.0, -3.4, -2.9, -2.8]
l13_mid = [-2.5, -2.8, -3.0, -3.2, -3.3, -3.5, -3.6, -3.7, -3.8, -3.7, -3.9, -4.0, -4.1, -3.9, -4.2,
           -4.3, -4.2, -4.4, -4.6, -4.3, -4.5, -4.7, -4.4, -4.8, -4.6, -4.9, -5.0, -4.7, -5.1, -4.8,
           -5.0, -5.2, -4.9, -5.3, -5.1, -5.5, -5.2, -5.0, -5.4, -5.6, -5.3, -5.0, -5.4, -5.2, -5.0]
l13_lo = [-3.0, -3.4, -3.7, -4.0, -4.2, -4.4, -4.5, -4.6, -4.8, -4.7, -4.9, -5.0, -5.1, -5.0, -5.2,
          -5.3, -5.4, -5.3, -5.5, -5.8, -5.6, -5.9, -6.0, -5.7, -6.2, -6.0, -6.4, -6.1, -6.5, -6.3,
          -6.2, -6.8, -9.3, -6.5, -7.0, -6.6, -7.2, -6.8, -7.5, -7.0, -7.3, -6.8, -7.6, -7.0, -6.5]

# ---- Output 14 ----
t14_hi = [0.0, -0.5, -1.0, -1.5, -2.0, -2.5, -2.8, -3.0, -3.2, -3.3, -3.5, -3.6, -3.5, -3.7, -3.8,
          -3.9, -4.0, -3.8, -4.1, -4.2, -4.0, -4.3, -4.4, -4.2, -4.5, -4.6, -4.4, -4.7, -4.8, -4.6,
          -4.9, -5.0, -4.8, -5.1, -5.2, -5.0, -5.3, -5.2, -5.5, -5.4, -5.6, -5.8, -5.6, -5.5, -5.4]
t14_mid = [-3.0, -3.3, -3.6, -4.0, -4.3, -4.6, -4.9, -5.2, -5.5, -5.7, -5.9, -6.1, -6.0, -6.3, -6.4,
           -6.6, -6.8, -7.0, -6.9, -7.2, -7.5, -7.3, -7.7, -7.9, -7.8, -8.1, -8.3, -8.2, -8.5, -8.7,
           -8.6, -8.9, -9.1, -9.0, -9.3, -9.5, -9.4, -9.7, -9.8, -10.0, -10.2, -10.5, -10.7, -10.4, -10.3]
t14_lo = [-6.5, -4.5, -5.0, -5.5, -6.0, -6.5, -7.0, -7.3, -7.6, -7.9, -8.2, -8.0, -8.4, -8.6, -8.3,
          -9.0, -10.0, -9.3, -11.0, -9.8, -10.5, -11.5, -10.8, -12.0, -11.2, -12.5, -11.6, -12.8, -12.2, -13.2,
          -12.6, -12.8, -13.5, -12.9, -14.0, -13.2, -14.2, -13.7, -14.5, -14.8, -14.3, -15.0, -15.5, -15.2, -15.5]
l14_hi = [-2.0, -2.5, -2.8, -3.0, -2.8, -3.2, -3.0, -3.3, -3.1, -2.9, -3.2, -3.4, -3.0, -3.3, -3.1,
          -3.5, -2.9, -3.2, -3.4, -3.0, -3.3, -3.6, -3.1, -3.4, -3.2, -3.6, -3.0, -3.4, -3.7, -3.2,
          -3.5, -3.3, -3.8, -3.1, -3.6, -3.4, -3.9, -3.3, -3.6, -3.8, -3.2, -3.7, -3.5, -3.9, -3.6]
l14_mid = [-2.8, -3.0, -3.3, -3.5, -3.6, -3.8, -3.9, -4.0, -4.1, -4.3, -4.2, -4.4, -4.6, -4.5, -4.7,
           -4.6, -4.9, -5.0, -4.8, -5.2, -5.1, -5.4, -5.3, -5.6, -5.4, -5.8, -5.6, -6.0, -5.8, -6.2,
           -6.0, -6.4, -6.1, -6.5, -6.7, -6.3, -6.8, -7.0, -6.6, -7.2, -7.0, -7.5, -8.5, -8.0, -7.8]
l14_lo = [-3.5, -3.8, -4.0, -4.2, -4.4, -4.5, -4.6, -4.8, -5.0, -4.9, -5.2, -5.4, -5.3, -5.6, -5.8,
          -6.0, -6.3, -6.5, -6.8, -7.5, -7.0, -8.0, -7.6, -8.5, -8.0, -8.8, -9.5, -8.6, -9.2, -10.0,
          -9.4, -10.3, -9.8, -10.5, -11.0, -10.2, -11.5, -10.8, -12.0, -11.2, -12.8, -13.5, -14.5, -15.5, -12.5]

# ---- Output 15 ----
t15_hi = [0.0, -0.8, -1.5, -2.0, -2.4, -2.7, -2.9, -3.0, -3.1, -3.2, -3.2, -3.3, -3.3, -3.4, -3.4,
          -3.5, -3.5, -3.5, -3.6, -3.6, -3.7, -3.8, -4.0, -4.5, -5.0, -5.0, -5.1, -5.2, -5.2, -5.3,
          -5.3, -5.4, -5.4, -5.5, -5.5, -5.6, -5.6, -5.7, -5.8, -6.0, -6.3, -6.5, -6.6, -6.6, -6.6]
t15_mid = [-2.5, -2.8, -3.2, -3.4, -3.8, -4.0, -4.4, -4.6, -5.0, -5.1, -5.5, -5.4, -5.8, -5.9, -6.2,
           -6.1, -6.6, -6.8, -7.4, -7.6, -8.2, -8.3, -8.7, -8.6, -9.1, -9.0, -9.5, -9.4, -9.9, -9.8,
           -10.2, -10.0, -10.4, -10.5, -10.3, -10.7, -10.9, -11.0, -11.4, -11.0, -11.4, -11.5, -11.7, -11.5, -11.6]
t15_lo = [-3.0, -3.6, -4.0, -4.6, -5.0, -5.7, -5.8, -6.2, -6.3, -7.0, -7.2, -7.9, -8.0, -8.6, -8.8,
          -9.5, -9.5, -10.2, -10.2, -11.2, -11.5, -12.4, -12.3, -12.9, -12.8, -13.4, -13.3, -13.9, -13.6, -14.2,
          -14.0, -14.8, -14.2, -14.7, -14.3, -14.9, -14.8, -15.1, -15.0, -15.3, -15.2, -15.5, -15.5, -15.5, -15.5]
l15_hi = [-2.0, -2.3, -2.6, -2.8, -2.7, -3.0, -2.8, -2.6, -2.9, -2.7, -3.0, -2.8, -2.5, -2.9, -2.7,
          -3.0, -2.6, -2.9, -2.8, -3.1, -2.7, -2.5, -3.0, -2.8, -2.6, -3.1, -2.7, -2.9, -2.5, -3.0,
          -2.8, -2.6, -3.2, -2.7, -2.9, -2.5, -3.0, -2.8, -3.3, -2.7, -2.9, -3.1, -2.8, -3.2, -2.9]
l15_mid = [-2.8, -3.0, -3.2, -3.3, -3.4, -3.5, -3.5, -3.6, -3.7, -3.8, -3.8, -3.9, -4.0, -4.0, -4.1,
           -4.2, -4.4, -4.6, -4.8, -5.0, -5.2, -5.0, -5.4, -5.6, -5.3, -5.8, -6.0, -5.7, -6.2, -6.0,
           -6.4, -6.1, -6.6, -6.3, -6.8, -6.5, -7.0, -6.7, -7.2, -7.5, -7.0, -7.8, -7.4, -7.6, -7.5]
l15_lo = [-3.3, -3.6, -3.9, -4.1, -4.3, -4.5, -4.6, -4.8, -5.0, -5.1, -5.3, -5.5, -5.6, -5.8, -6.0,
          -6.3, -6.6, -7.0, -7.5, -8.0, -8.5, -9.0, -8.6, -9.3, -8.8, -9.6, -9.2, -10.0, -9.5, -10.3,
          -9.8, -10.5, -10.0, -11.0, -10.4, -11.2, -10.8, -11.5, -11.0, -12.0, -11.5, -12.5, -12.0, -12.8, -12.2]

theta_sets = [
    (t1_lo, t1_mid, t1_hi), (t2_lo, t2_mid, t2_hi), (t3_lo, t3_mid, t3_hi),
    (t4_lo, t4_mid, t4_hi), (t5_lo, t5_mid, t5_hi), (t6_lo, t6_mid, t6_hi),
    (t7_lo, t7_mid, t7_hi), (t8_lo, t8_mid, t8_hi), (t9_lo, t9_mid, t9_hi),
    (t10_lo, t10_mid, t10_hi), (t11_lo, t11_mid, t11_hi), (t12_lo, t12_mid, t12_hi),
    (t13_lo, t13_mid, t13_hi), (t14_lo, t14_mid, t14_hi), (t15_lo, t15_mid, t15_hi),
]
lhs_sets = [
    (l1_lo, l1_mid, l1_hi), (l2_lo, l2_mid, l2_hi), (l3_lo, l3_mid, l3_hi),
    (l4_lo, l4_mid, l4_hi), (l5_lo, l5_mid, l5_hi), (l6_lo, l6_mid, l6_hi),
    (l7_lo, l7_mid, l7_hi), (l8_lo, l8_mid, l8_hi), (l9_lo, l9_mid, l9_hi),
    (l10_lo, l10_mid, l10_hi), (l11_lo, l11_mid, l11_hi), (l12_lo, l12_mid, l12_hi),
    (l13_lo, l13_mid, l13_hi), (l14_lo, l14_mid, l14_hi), (l15_lo, l15_mid, l15_hi),
]

xticks = [100, 200, 300, 400, 500]
yticks = [0, -3, -6, -9, -12, -15]


def draw_bands(ax, theta, lhs, with_label=False):
    styles = [(theta, 'blue', 0.2, 'Theta'), (lhs, 'red', 0.12, 'LHS')]
    for (lo, mid, hi), c, a, name in styles:
        x = n_start + n_step * np.arange(len(mid))
        ax.fill_between(x, lo, hi, color=c, alpha=a, lw=0)
    for (lo, mid, hi), c, a, name in styles:
        x = n_start + n_step * np.arange(len(mid))
        ax.plot(x, lo, color=c, lw=0.9)
        ax.plot(x, hi, color=c, lw=0.9)
        ax.plot(x, mid, color=c, lw=1.25, label=name if with_label else None)


fig, axes = plt.subplots(3, 5, figsize=(12.55, 6.21), dpi=100, sharex=True, sharey=True)
fig.subplots_adjust(left=0.0534, right=0.977, top=0.984, bottom=0.0886,
                    wspace=0.0755, hspace=0.135)

for k, ax in enumerate(axes.flat):
    draw_bands(ax, theta_sets[k], lhs_sets[k], with_label=(k == 0))
    ax.set_xlim(60, 500)
    ax.set_ylim(-15, 0)
    ax.set_xticks(xticks)
    ax.set_yticks(yticks)
    ax.tick_params(labelsize=14.5, length=3.5, pad=2.5)
    ax.text(0.05, 0.95, 'Output %d' % (k + 1), transform=ax.transAxes,
            ha='left', va='top', fontsize=16, zorder=10,
            bbox=dict(boxstyle='round,pad=0.15', fc='white', ec='0.6', alpha=0.85))
    if k % 5 == 0:
        ax.set_ylabel(r'$\log_{10}(1-Q^2)$', fontsize=16.5)
        ax.yaxis.set_label_coords(-0.172, 0.5)
    if k >= 10:
        ax.set_xlabel(r'$n_{\mathrm{sample}}$', fontsize=17.5, labelpad=1)

axes[0, 0].legend(loc='lower left', fontsize=14, framealpha=0.8, edgecolor='0.7')

# zoomed view of Output 5
ax5 = axes[0, 4]
axins = ax5.inset_axes([148, -14.1, 264, 7.5], transform=ax5.transData)
draw_bands(axins, theta_sets[4], lhs_sets[4])
axins.set_xlim(60, 500)
axins.set_ylim(-5, -1)
axins.set_xticks([])
axins.set_yticks([-1, -3, -5])
axins.tick_params(labelsize=14.5, length=3.5, pad=2.5)
mark_inset(ax5, axins, loc1=2, loc2=4, fc='none', ec='black', lw=1)

fig.savefig('out.png', dpi=100)
